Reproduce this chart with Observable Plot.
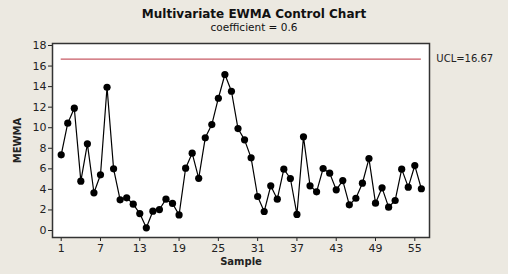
<!DOCTYPE html>
<html><head><meta charset="utf-8">
<script src="https://cdn.jsdelivr.net/npm/d3@7"></script>
<script src="https://cdn.jsdelivr.net/npm/@observablehq/plot@0.6"></script>
<style>
html,body{margin:0;padding:0;background:#ece9e1;}
#wrap{position:relative;width:508px;height:274px;overflow:hidden;font-family:"DejaVu Sans",Verdana,sans-serif;color:#111;}
#title{position:absolute;left:0;width:508px;top:7px;text-align:center;font-weight:bold;font-size:12px;line-height:14px;}
#sub{position:absolute;left:0;width:508px;top:21px;text-align:center;font-size:10.5px;line-height:12px;}
#chart{position:absolute;left:0;top:36px;}
#chart svg [aria-label="y-axis label"], #chart svg [aria-label="x-axis label"]{font-weight:bold;font-size:10px;}
</style>
</head><body>
<div id="wrap">
<div id="title">Multivariate EWMA Control Chart</div>
<div id="sub">coefficient = 0.6</div>
<div id="chart"></div>
</div>
<script>
const mewma = [7.36,10.44,11.9,4.8,8.43,3.67,5.42,13.94,6.0,2.98,3.18,2.56,1.65,0.26,1.88,2.04,3.05,2.63,1.52,6.06,7.52,5.08,9.02,10.31,12.87,15.18,13.55,9.92,8.82,7.07,3.31,1.85,4.35,3.05,5.97,5.06,1.56,9.11,4.35,3.76,6.03,5.58,3.96,4.86,2.5,3.14,4.6,7.0,2.66,4.15,2.27,2.92,5.97,4.22,6.32,4.06];
const samples = mewma.map((_, i) => i + 1);
const ucl = 16.67;
const uclLabel = "UCL=16.67";
const xTicks = [1,7,13,19,25,31,37,43,49,55];
const yTicks = [0,2,4,6,8,10,12,14,16,18];

const data = samples.map((s, i) => ({sample: s, value: mewma[i]}));
const topOff = 36;
const chart = Plot.plot({
  width: 508,
  height: 238,
  marginLeft: 52,
  marginRight: 79,
  marginTop: 7,
  marginBottom: 37,
  style: {background: "transparent", fontFamily: "'DejaVu Sans', Verdana, sans-serif", fontSize: "11px", color: "#222"},
  x: {domain: [1, 55], range: [60.7, 414.3]},
  y: {domain: [0, 18], range: [230 - topOff, 45 - topOff]},
  marks: [
    Plot.frame({fill: "white"}),
    Plot.axisX({ticks: xTicks, tickSize: 4, tickPadding: 3, label: "Sample", labelAnchor: "center", labelArrow: "none", labelOffset: 27}),
    Plot.axisY({ticks: yTicks, tickSize: 4, tickPadding: 2, label: "MEWMA", labelAnchor: "center", labelArrow: "none", labelOffset: 39}),
    Plot.ruleY([ucl], {x1: samples[0], x2: samples[samples.length - 1], stroke: "#c75a64", strokeWidth: 1.4}),
    Plot.text([uclLabel], {x: samples[samples.length - 1], y: ucl, text: d => d, textAnchor: "start", dx: 15, fontSize: 10, fill: "#222"}),
    Plot.line(data, {x: "sample", y: "value", stroke: "black", strokeWidth: 1.2}),
    Plot.dot(data, {x: "sample", y: "value", r: 3.6, fill: "black", stroke: "none"}),
    Plot.frame({stroke: "#333", strokeWidth: 1.5})
  ]
});
document.getElementById("chart").appendChild(chart);
</script>
</body></html>
